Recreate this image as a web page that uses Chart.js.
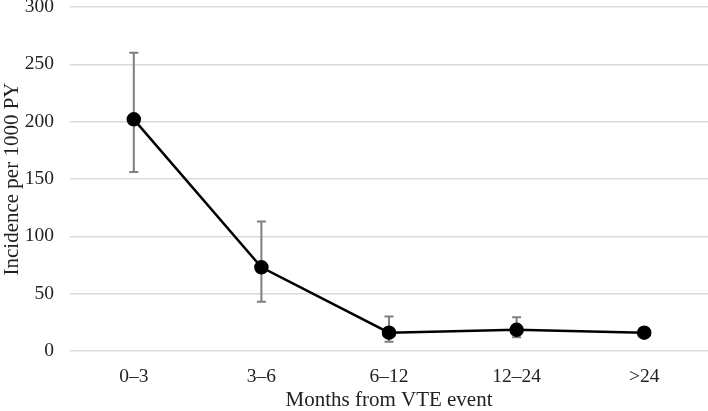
<!DOCTYPE html>
<html lang="en">
<head>
  <meta charset="UTF-8">
  <title>Incidence by months from VTE event</title>
  <script src="https://cdn.jsdelivr.net/npm/chart.js"></script>
  <style>
    html, body { margin: 0; padding: 0; background: #fff; }
    #wrap { width: 708px; height: 411px; }
  </style>
</head>
<body>
  <div id="wrap"><canvas id="incChart"></canvas></div>
  <script>
    const categories = ['0\u20133', '3\u20136', '6\u201312', '12\u201324', '>24'];
    const incidence = [202, 73, 16, 18.5, 16];
    const lowerCI = [156, 43, 8, 12, 14];
    const upperCI = [260, 113, 30, 29.5, 18];
    const yTicks = [0, 50, 100, 150, 200, 250, 300];

    const errorBars = {
      id: 'errorBars',
      beforeDatasetsDraw(chart) {
        const { ctx, scales: { x, y } } = chart;
        ctx.save();
        ctx.strokeStyle = '#7f7f7f';
        ctx.lineWidth = 2;
        incidence.forEach((v, i) => {
          const px = x.getPixelForValue(i);
          const top = y.getPixelForValue(upperCI[i]);
          const bot = y.getPixelForValue(lowerCI[i]);
          ctx.beginPath();
          ctx.moveTo(px, top); ctx.lineTo(px, bot);
          ctx.moveTo(px - 4.5, top); ctx.lineTo(px + 4.5, top);
          ctx.moveTo(px - 4.5, bot); ctx.lineTo(px + 4.5, bot);
          ctx.stroke();
        });
        ctx.restore();
      }
    };

    const family = "'Liberation Serif', 'Times New Roman', serif";
    const tickFont = { family, size: 19.5 };
    const ctx = document.getElementById('incChart').getContext('2d');
    new Chart(ctx, {
      type: 'line',
      data: {
        labels: categories,
        datasets: [{
          data: incidence,
          borderColor: '#000',
          backgroundColor: '#000',
          borderWidth: 2.5,
          pointRadius: 6,
          pointHoverRadius: 6,
          tension: 0,
          clip: false
        }]
      },
      options: {
        responsive: true,
        maintainAspectRatio: false,
        animation: false,
        layout: { autoPadding: false, padding: 0 },
        plugins: { legend: { display: false }, tooltip: { enabled: false } },
        scales: {
          x: {
            offset: true,
            afterFit(s) { s.height = 60; s.paddingLeft = 0; s.paddingRight = 0; },
            grid: { display: false },
            border: { display: false },
            ticks: { color: '#222', font: tickFont, padding: 6, maxRotation: 0 },
            title: { display: true, text: 'Months from VTE event', color: '#222', font: { family, size: 21, lineHeight: 1 }, padding: { top: 0, bottom: 0 } }
          },
          y: {
            min: 0, max: 300,
            afterBuildTicks(s) { s.ticks = yTicks.map(v => ({ value: v })); },
            afterFit(s) { s.width = 70; s.paddingTop = 7; s.paddingBottom = 0; },
            grid: { color: '#d9d9d9', lineWidth: 1.5, drawTicks: false },
            border: { display: false },
            ticks: { color: '#222', font: tickFont, padding: 16 },
            title: { display: true, text: 'Incidence per 1000 PY', color: '#222', font: { family, size: 21 }, padding: { top: 0, bottom: 0 } }
          }
        }
      },
      plugins: [errorBars]
    });
  </script>
</body>
</html>
